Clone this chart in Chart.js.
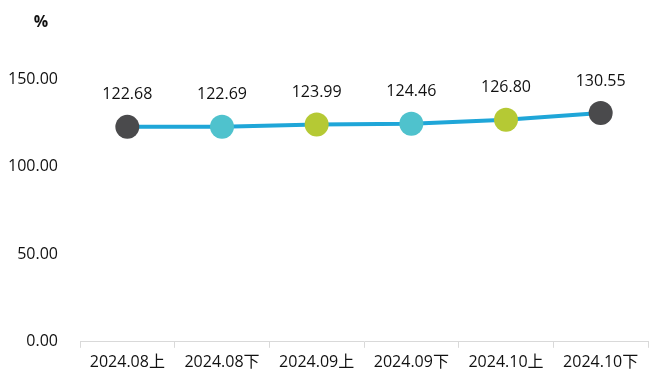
<!DOCTYPE html>
<html>
<head>
<meta charset="utf-8">
<script src="https://cdn.jsdelivr.net/npm/chart.js@4"></script>
<style>
  html, body { margin: 0; padding: 0; background: #fff; }
  #wrap { width: 662px; height: 386px; }
</style>
</head>
<body>
<div id="wrap"><canvas id="rateChart"></canvas></div>
<script>
// data
const categories = ['2024.08上', '2024.08下', '2024.09上', '2024.09下', '2024.10上', '2024.10下'];
const values = [122.68, 122.69, 123.99, 124.46, 126.80, 130.55];
const yTicks = [0, 50, 100, 150];
const pointColors = ['#4a4a4c', '#4fc2cd', '#b5c934', '#4fc2cd', '#b5c934', '#4a4a4c'];

const FONT = '"Open Sans", "Noto Sans CJK SC", sans-serif';

// value labels above each point
const valueLabels = {
  id: 'valueLabels',
  afterDatasetsDraw(chart) {
    const ctx = chart.ctx;
    const meta = chart.getDatasetMeta(0);
    ctx.save();
    ctx.font = '16px ' + FONT;
    ctx.fillStyle = '#111';
    ctx.textAlign = 'center';
    ctx.textBaseline = 'middle';
    meta.data.forEach((pt, i) => {
      ctx.fillText(values[i].toFixed(2), pt.x, pt.y - 32);
    });
    ctx.restore();
  }
};

// unit label "%" above the y axis
const unitLabel = {
  id: 'unitLabel',
  afterDraw(chart) {
    const ctx = chart.ctx;
    ctx.save();
    ctx.font = 'bold 16px ' + FONT;
    ctx.fillStyle = '#111';
    ctx.textAlign = 'center';
    ctx.textBaseline = 'middle';
    ctx.fillText('%', 41, 22);
    ctx.restore();
  }
};

new Chart(document.getElementById('rateChart'), {
  type: 'line',
  data: {
    labels: categories,
    datasets: [{
      data: values,
      borderColor: '#1fa6d8',
      borderWidth: 4,
      pointRadius: 12,
      pointHoverRadius: 12,
      pointBackgroundColor: pointColors,
      pointBorderColor: pointColors,
      pointBorderWidth: 0,
      tension: 0,
      clip: false
    }]
  },
  options: {
    responsive: true,
    maintainAspectRatio: false,
    animation: false,
    layout: { padding: { top: 79, right: 14, left: 0, bottom: 9 } },
    plugins: {
      legend: { display: false },
      tooltip: { enabled: false }
    },
    scales: {
      x: {
        offset: true,
        grid: {
          offset: true,
          drawOnChartArea: false,
          drawTicks: true,
          tickLength: 6,
          color: '#d9d9d9'
        },
        border: { color: '#d9d9d9', width: 1 },
        ticks: {
          color: '#111',
          font: { family: FONT, size: 16 },
          padding: 5,
          maxRotation: 0
        }
      },
      y: {
        min: 0,
        max: 150,
        afterBuildTicks(scale) {
          scale.ticks = yTicks.map(v => ({ value: v }));
        },
        afterFit(scale) { scale.width = 80; },
        grid: { display: false },
        border: { display: false },
        ticks: {
          color: '#111',
          font: { family: FONT, size: 16 },
          padding: 14,
          callback: v => Number(v).toFixed(2)
        }
      }
    }
  },
  plugins: [valueLabels, unitLabel]
});
</script>
</body>
</html>
